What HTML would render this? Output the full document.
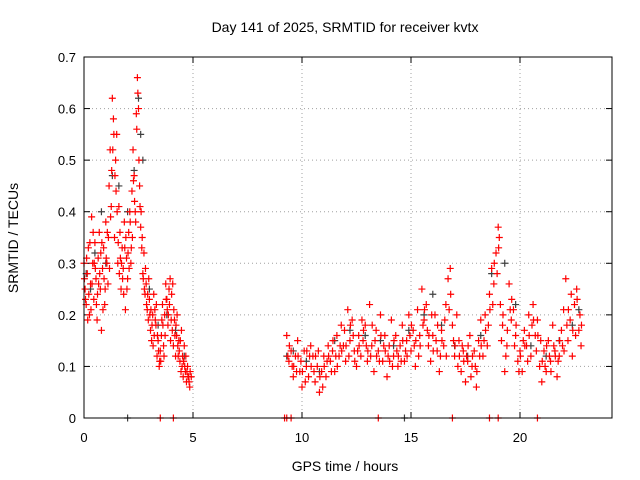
<!DOCTYPE html>
<html><head><meta charset="utf-8"><style>
body{margin:0;background:#fff;}
svg{display:block;font-family:"Liberation Sans",sans-serif;}
</style></head><body>
<svg id="chart" width="640" height="480">
<text x="345" y="32" text-anchor="middle" font-size="14">Day 141 of 2025, SRMTID for receiver kvtx</text>
<text x="345" y="471" text-anchor="middle" font-size="14">GPS time / hours</text>
<text transform="translate(18,238) rotate(-90)" text-anchor="middle" font-size="14">SRMTID / TECUs</text>
<g id="grid"></g><g id="axes"></g><g id="black"></g><g id="red"></g>
<rect x="84" y="57" width="528" height="361" fill="none" stroke="#000" stroke-width="1"/>
</svg>
<script>
const xTicks=[0,5,10,15,20];
const yTicks=[0,0.1,0.2,0.3,0.4,0.5,0.6,0.7];
const yTickLabels=["0","0.1","0.2","0.3","0.4","0.5","0.6","0.7"];
const redTimes1=[0,0.05,0.1,0.15,0.2,0.25,0.3,0.35,0.4,0.45,0.5,0.55,0.6,0.65,0.7,0.75,0.8,0.85,0.9,0.95,1.0,1.05,1.1,1.15,1.2,1.25,1.3,1.35,1.4,1.45,1.5,1.55,1.6,1.65,1.7,1.75,1.8,1.85,1.9,1.95,2.0,2.05,2.1,2.15,2.2,2.25,2.3,2.35,2.4,2.45,2.5,2.55,2.6,2.65,2.7,2.75,2.8,2.85,2.9,2.95,3.0,3.05,3.1,3.15,3.2,3.25,3.3,3.35,3.4,3.45,3.5,3.55,3.6,3.65,3.7,3.75,3.8,3.85,3.9,3.95,4.0,4.05,4.1,4.15,4.2,4.25,4.3,4.35,4.4,4.45,4.5,4.55,4.6,4.65,4.7,4.75,4.8,4.85];
const redValues1=[.30,.25,.22,.28,.33,.20,.26,.39,.30,.23,.34,.27,.19,.31,.36,.25,.17,.29,.33,.22,.38,.30,.26,.45,.52,.41,.62,.58,.35,.50,.55,.30,.41,.36,.25,.33,.29,.38,.21,.31,.27,.36,.40,.30,.44,.52,.47,.40,.59,.66,.60,.45,.37,.33,.28,.32,.24,.26,.21,.19,.23,.17,.15,.20,.24,.21,.18,.12,.15,.10,.13,.16,.22,.14,.20,.26,.23,.18,.25,.27,.19,.17,.14,.19,.12,.16,.14,.15,.11,.09,.10,.08,.14,.09,.07,.10,.08,.06];
const redTimes2=[0.02,0.12,0.22,0.32,0.42,0.52,0.62,0.72,0.82,0.92,1.02,1.12,1.22,1.32,1.42,1.52,1.62,1.72,1.82,1.92,2.02,2.12,2.22,2.32,2.42,2.52,2.62,2.72,2.82,2.92,3.02,3.12,3.22,3.32,3.42,3.52,3.62,3.72,3.82,3.92,4.02,4.12,4.22,4.32,4.42,4.52,4.62,4.72,4.82,4.92];
const redValues2=[.27,.31,.24,.21,.36,.29,.24,.28,.34,.27,.31,.35,.39,.52,.47,.40,.28,.30,.24,.35,.32,.38,.35,.42,.56,.50,.40,.27,.29,.24,.20,.18,.16,.22,.13,.11,.18,.16,.21,.22,.24,.21,.18,.12,.15,.12,.10,.09,.07,.08];
const redTimes5=[0.07,0.17,0.27,0.37,0.47,0.57,0.67,0.77,0.87,0.97,1.07,1.17,1.27,1.37,1.47,1.57,1.67,1.77,1.87,1.97,2.07,2.17,2.27,2.37,2.47,2.57,2.67,2.77,2.87,2.97,3.07,3.17,3.27,3.37,3.47,3.57,3.67,3.77,3.87,3.97,4.07,4.17,4.27,4.37,4.47,4.57,4.67,4.77,4.87];
const redValues5=[.23,.19,.34,.26,.30,.22,.26,.32,.21,.25,.36,.29,.48,.55,.44,.34,.31,.27,.33,.25,.29,.33,.46,.38,.63,.41,.35,.25,.22,.27,.21,.14,.19,.16,.11,.19,.12,.23,.20,.15,.26,.16,.20,.13,.17,.11,.12,.08,.09];
const redTimes3=[9.3,9.4,9.5,9.6,9.7,9.8,9.9,10.0,10.1,10.2,10.3,10.4,10.5,10.6,10.7,10.8,10.9,11.0,11.1,11.2,11.3,11.4,11.5,11.6,11.7,11.8,11.9,12.0,12.1,12.2,12.3,12.4,12.5,12.6,12.7,12.8,12.9,13.0,13.1,13.2,13.3,13.4,13.5,13.6,13.7,13.8,13.9,14.0,14.1,14.2,14.3,14.4,14.5,14.6,14.7,14.8,14.9,15.0,15.1,15.2,15.3,15.4,15.5,15.6,15.7,15.8,15.9,16.0,16.1,16.2,16.3,16.4,16.5,16.6,16.7,16.8,16.9,17.0,17.1,17.2,17.3,17.4,17.5,17.6,17.7,17.8,17.9,18.0,18.1,18.2,18.3,18.4,18.5,18.6,18.7,18.8,18.9,19.0,19.05,19.1,19.2,19.3,19.4,19.5,19.6,19.7,19.8,19.9,20.0,20.1,20.2,20.3,20.4,20.5,20.6,20.7,20.8,20.9,21.0,21.1,21.2,21.3,21.4,21.5,21.6,21.7,21.8,21.9,22.0,22.1,22.2,22.3,22.4,22.5,22.6,22.7,22.8];
const redValues3=[.16,.11,.13,.08,.12,.15,.09,.06,.13,.10,.08,.14,.12,.07,.10,.05,.09,.12,.08,.14,.11,.13,.09,.16,.12,.18,.14,.11,.21,.15,.19,.13,.10,.16,.12,.15,.18,.11,.22,.14,.09,.17,.13,.20,.11,.16,.08,.14,.19,.12,.16,.10,.14,.18,.11,.15,.20,.13,.17,.10,.21,.16,.25,.19,.22,.14,.11,.16,.20,.13,.09,.17,.14,.22,.27,.29,.18,.12,.20,.15,.09,.13,.07,.11,.16,.10,.13,.06,.15,.19,.12,.20,.14,.24,.29,.26,.32,.37,.35,.22,.18,.09,.14,.26,.19,.21,.16,.11,.13,.09,.17,.14,.20,.12,.22,.16,.19,.10,.07,.13,.09,.15,.11,.18,.13,.08,.12,.17,.21,.27,.15,.19,.12,.22,.25,.17,.14];
const redTimes4=[9.35,9.55,9.75,9.95,10.15,10.35,10.55,10.75,10.95,11.15,11.35,11.55,11.75,11.95,12.15,12.35,12.55,12.75,12.95,13.15,13.35,13.55,13.75,13.95,14.15,14.35,14.55,14.75,14.95,15.15,15.35,15.55,15.75,15.95,16.15,16.35,16.55,16.75,16.95,17.15,17.35,17.55,17.75,17.95,18.15,18.35,18.55,18.75,18.95,19.15,19.35,19.55,19.75,19.95,20.15,20.35,20.55,20.75,20.95,21.15,21.35,21.55,21.75,21.95,22.15,22.35,22.55,22.75];
const redValues4=[.12,.10,.09,.11,.07,.12,.09,.13,.06,.11,.09,.12,.14,.17,.12,.16,.13,.19,.14,.12,.15,.11,.14,.12,.10,.13,.11,.13,.16,.14,.12,.18,.17,.20,.15,.12,.19,.21,.15,.10,.14,.12,.08,.10,.12,.15,.18,.22,.28,.15,.12,.21,.14,.09,.15,.11,.18,.13,.15,.10,.12,.14,.11,.14,.18,.24,.16,.20];
const redTimes6=[9.42,9.62,9.82,10.02,10.22,10.42,10.62,10.82,11.02,11.22,11.42,11.62,11.82,12.02,12.22,12.42,12.62,12.82,13.02,13.22,13.42,13.62,13.82,14.02,14.22,14.42,14.62,14.82,15.02,15.22,15.42,15.62,15.82,16.02,16.22,16.42,16.62,16.82,17.02,17.22,17.42,17.62,17.82,18.02,18.22,18.42,18.62,18.82,19.02,19.22,19.42,19.62,19.82,20.02,20.22,20.42,20.62,20.82,21.02,21.22,21.42,21.62,21.82,22.02,22.22,22.42,22.62,22.82];
const redValues6=[.14,.10,.12,.09,.13,.10,.12,.08,.10,.12,.15,.10,.13,.14,.18,.11,.14,.17,.13,.18,.12,.16,.13,.11,.15,.12,.15,.12,.18,.15,.14,.21,.16,.13,.18,.15,.12,.24,.14,.12,.11,.14,.12,.09,.14,.17,.21,.30,.33,.20,.17,.23,.18,.12,.14,.16,.19,.16,.11,.14,.09,.12,.15,.13,.21,.17,.23,.18];
const redZeroTimes=[3.5,4.1,9.2,9.3,9.5,13.5,16.9,18.6,19.0,20.8];
const blackTimes=[0.1,0.3,0.5,0.8,1.0,1.3,1.6,2.0,2.3,2.5,2.6,2.7,3.0,3.4,3.8,4.2,4.6,9.3,9.6,10.2,10.8,11.5,12.2,12.9,13.6,14.2,14.9,15.6,16.0,16.4,17.0,17.6,18.2,18.7,19.3,19.8,20.5,21.2,21.8,22.4,22.7,2.0,14.7];
const blackValues=[.28,.25,.32,.40,.30,.47,.45,.40,.48,.62,.55,.50,.25,.18,.20,.17,.12,.12,.13,.11,.09,.15,.17,.16,.15,.14,.17,.20,.24,.18,.14,.12,.16,.28,.30,.22,.14,.12,.15,.18,.21,0,0];

const X0=84,X1=612,Y0=418,Y1=57,XMAX=24.22,YMAX=0.7;
const xs=t=>X0+(X1-X0)*t/XMAX;
const ys=v=>Y0-(Y0-Y1)*v/YMAX;
const NS="http://www.w3.org/2000/svg";
function mk(tag,attrs,parent){const e=document.createElementNS(NS,tag);for(const k in attrs)e.setAttribute(k,attrs[k]);parent.appendChild(e);return e;}
const grid=document.getElementById('grid'),axes=document.getElementById('axes');
xTicks.forEach((t,i)=>{
  const x=xs(t);
  if(t>0){const g=mk('line',{x1:x,x2:x,y1:Y1,y2:Y0,stroke:'#a0a0a0','stroke-dasharray':'1,3'},grid);
  
  }
  mk('line',{x1:x,x2:x,y1:Y0,y2:Y0-6,stroke:'#000'},axes);
  mk('line',{x1:x,x2:x,y1:Y1,y2:Y1+6,stroke:'#000'},axes);
  const l=mk('text',{x:x,y:442,'text-anchor':'middle','font-size':13},axes);l.textContent=String(t);
  
  
});
yTicks.forEach((v,i)=>{
  const y=ys(v);
  if(v>0&&v<0.7){const g=mk('line',{x1:X0,x2:X1,y1:y,y2:y,stroke:'#a0a0a0','stroke-dasharray':'1,3'},grid);
  
  }
  mk('line',{x1:X0,x2:X0+6,y1:y,y2:y,stroke:'#000'},axes);
  mk('line',{x1:X1,x2:X1-6,y1:y,y2:y,stroke:'#000'},axes);
  const l=mk('text',{x:76,y:y+5,'text-anchor':'end','font-size':13},axes);l.textContent=yTickLabels[i];
  
  
});
function plus(t,v,color,parent,name){
  const x=xs(t),y=ys(v);
  const p=mk('path',{d:`M${x-3.5},${y}H${x+3.5}M${x},${y-3.5}V${y+3.5}`,stroke:color,'stroke-width':1.2,fill:'none'},parent);
  
  
}
const bg=document.getElementById('black'),rg=document.getElementById('red');
blackTimes.forEach((t,i)=>plus(t,blackValues[i],'#404040',bg,'point-series-1'));
[[redTimes1,redValues1],[redTimes2,redValues2],[redTimes5,redValues5],[redTimes3,redValues3],[redTimes4,redValues4],[redTimes6,redValues6]].forEach(([T,V])=>T.forEach((t,i)=>plus(t,V[i],'#ff0000',rg,'point-series-2')));
redZeroTimes.forEach(t=>plus(t,0,'#ff0000',rg,'point-series-2-zero'));
</script>
</body></html>
